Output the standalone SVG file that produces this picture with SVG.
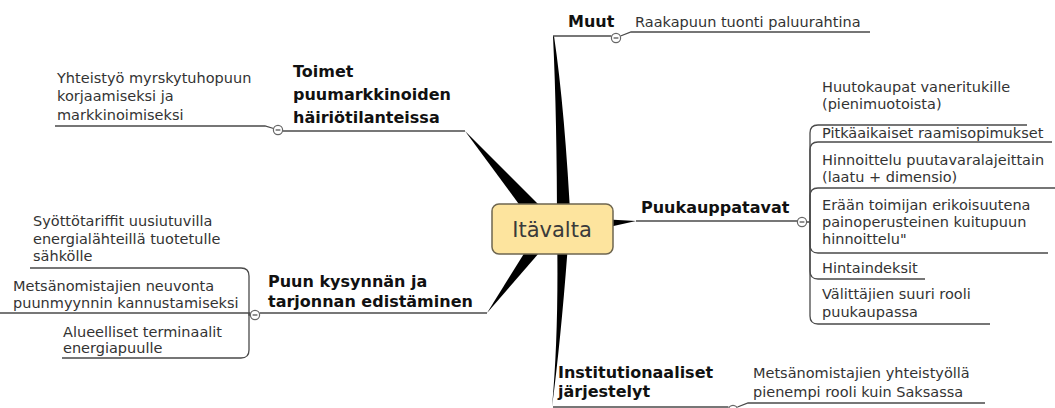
<svg xmlns="http://www.w3.org/2000/svg" width="1055" height="408" viewBox="0 0 1055 408">
<style>
.t{font-family:"DejaVu Sans",Verdana,sans-serif;font-size:14.5px;fill:#333}
.b{font-family:"DejaVu Sans",Verdana,sans-serif;font-size:16px;font-weight:bold;fill:#111}
.c{font-family:"DejaVu Sans",Verdana,sans-serif;font-size:21px;fill:#3a3a3a}
.ln{fill:none;stroke:#4a4a4a;stroke-width:1.3}
.br{fill:#000;stroke:none}
.btn{fill:#fff;stroke:#666;stroke-width:1.2}
.mn{stroke:#555;stroke-width:1.3}
</style>
<defs>
<g id="btn"><circle class="btn" cx="0" cy="0" r="4.6"/><line class="mn" x1="-2.4" y1="0" x2="2.4" y2="0"/></g>
</defs>
<rect width="1055" height="408" fill="#fff"/>
<g id="connectors">
<path class="br" d="M553,36 Q557,120 557,230 L571,230 Q565,110 554,36 Z"/>
<path class="br" d="M557,230 Q559,330 552,407 Q562,330 569,230 Z"/>
<path class="br" d="M465,131 L521,207 L545,225 L538,204 Z"/>
<path class="br" d="M487,313 L525,252 L545,235 L539,253 Z"/>
<path class="br" d="M600,219 L636,221 L600,229 Z"/>
<path class="ln" d="M553,36 H611.4"/>
<path class="ln" d="M620.5,36 L631,32 H870"/>
<path class="ln" d="M465,131 H282.6"/>
<path class="ln" d="M273.6,128.5 L265,126 H55"/>
<path class="ln" d="M636,221 H797.4"/>
<path class="ln" d="M553,407 H728.4"/>
<path class="ln" d="M737.5,407 L748,403 H985"/>
<path class="ln" d="M487,313 H259.6"/>
<path class="ln" d="M806.6,222 H810 V133 Q810,125 818,125 H1027"/>
<path class="ln" d="M810,222 V150 Q810,142 818,142 H1052"/>
<path class="ln" d="M810,222 V196 Q810,188 818,188 H1055"/>
<path class="ln" d="M810,222 V245 Q810,253 818,253 H1048"/>
<path class="ln" d="M810,222 V271 Q810,279 818,279 H925"/>
<path class="ln" d="M810,222 V316 Q810,324 818,324 H990"/>
<path class="ln" d="M250.4,315 H249 V276 Q249,268 241,268 H30"/>
<path class="ln" d="M250.4,313 H0"/>
<path class="ln" d="M249,313 V350 Q249,358 241,358 H62"/>
</g>
<g id="center">
<rect x="492" y="204" width="121" height="50" rx="7" fill="#fde49e" stroke="#6e6650" stroke-width="1.5"/>
<text class="c" x="552" y="237" text-anchor="middle">Itävalta</text>
</g>
<g id="muut">
<text class="b" x="568" y="27">Muut</text>
<use href="#btn" x="616" y="38"/>
</g>
<g id="muut-1"><text class="t" x="635" y="27">Raakapuun tuonti paluurahtina</text></g>
<g id="toimet">
<text class="b"><tspan x="293" y="77">Toimet</tspan><tspan x="293" y="100">puumarkkinoiden</tspan><tspan x="293" y="123">häiriötilanteissa</tspan></text>
<use href="#btn" x="278" y="130"/>
</g>
<g id="toimet-1"><text class="t"><tspan x="57" y="83">Yhteistyö myrskytuhopuun</tspan><tspan x="57" y="101">korjaamiseksi ja</tspan><tspan x="57" y="119.5">markkinoimiseksi</tspan></text></g>
<g id="puukauppa">
<text class="b" x="641" y="213">Puukauppatavat</text>
<use href="#btn" x="802" y="222"/>
</g>
<g id="pk-1"><text class="t"><tspan x="822" y="92">Huutokaupat vaneritukille</tspan><tspan x="822" y="109">(pienimuotoista)</tspan></text></g>
<g id="pk-2"><text class="t" x="822" y="138">Pitkäaikaiset raamisopimukset</text></g>
<g id="pk-3"><text class="t"><tspan x="822" y="165">Hinnoittelu puutavaralajeittain</tspan><tspan x="822" y="182">(laatu + dimensio)</tspan></text></g>
<g id="pk-4"><text class="t"><tspan x="822" y="210">Erään toimijan erikoisuutena</tspan><tspan x="822" y="227">painoperusteinen kuitupuun</tspan><tspan x="822" y="244">hinnoittelu"</tspan></text></g>
<g id="pk-5"><text class="t" x="822" y="273">Hintaindeksit</text></g>
<g id="pk-6"><text class="t"><tspan x="822" y="299">Välittäjien suuri rooli</tspan><tspan x="822" y="317">puukaupassa</tspan></text></g>
<g id="puun">
<text class="b"><tspan x="268" y="287">Puun kysynnän ja</tspan><tspan x="268" y="307">tarjonnan edistäminen</tspan></text>
<use href="#btn" x="255" y="315"/>
</g>
<g id="puun-1"><text class="t"><tspan x="33" y="226">Syöttötariffit uusiutuvilla</tspan><tspan x="33" y="244">energialähteillä tuotetulle</tspan><tspan x="33" y="261">sähkölle</tspan></text></g>
<g id="puun-2"><text class="t"><tspan x="13" y="291">Metsänomistajien neuvonta</tspan><tspan x="13" y="308">puunmyynnin kannustamiseksi</tspan></text></g>
<g id="puun-3"><text class="t"><tspan x="63" y="337">Alueelliset terminaalit</tspan><tspan x="63" y="353">energiapuulle</tspan></text></g>
<g id="inst">
<text class="b"><tspan x="558" y="378">Institutionaaliset</tspan><tspan x="558" y="397">järjestelyt</tspan></text>
<use href="#btn" x="733" y="410"/>
</g>
<g id="inst-1"><text class="t"><tspan x="753" y="378">Metsänomistajien yhteistyöllä</tspan><tspan x="753" y="397">pienempi rooli kuin Saksassa</tspan></text></g>
</svg>
